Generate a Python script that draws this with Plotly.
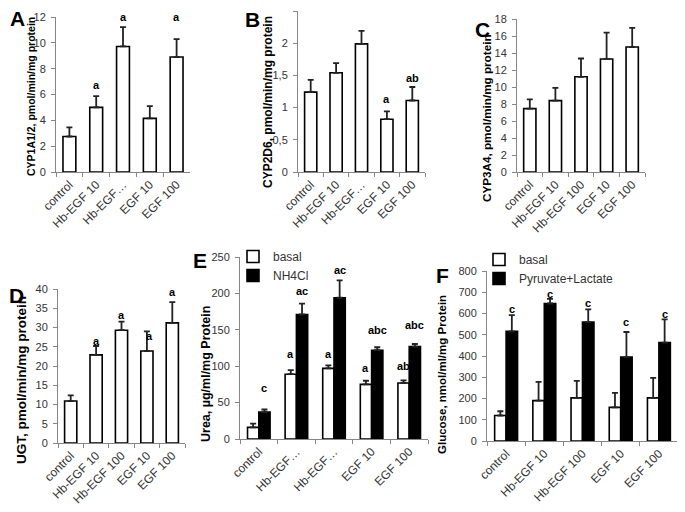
import plotly.graph_objects as go

# ---------------- data ----------------
categories = ["control", "Hb-EGF 10", "Hb-EGF 100", "EGF 10", "EGF 100"]
ticks_short = ["control", "Hb-EGF 10", "Hb-EGF\u2026", "EGF 10", "EGF 100"]
ticks_full = ["control", "Hb-EGF 10", "Hb-EGF 100", "EGF 10", "EGF 100"]
ticks_both_short = ["control", "Hb-EGF\u2026", "Hb-EGF\u2026", "EGF 10", "EGF 100"]

cyp1a_mean = [2.75, 5.0, 9.72, 4.15, 8.9]
cyp1a_err = [0.7, 0.87, 1.5, 0.95, 1.38]
cyp1a_lbl_idx = [1, 2, 4]
cyp1a_lbl_y = [6.7, 12.1, 12.1]

cyp2d6_mean = [1.24, 1.54, 1.99, 0.82, 1.11]
cyp2d6_err = [0.19, 0.15, 0.2, 0.12, 0.21]
cyp2d6_lbl_idx = [3, 4]
cyp2d6_lbl_txt = ["a", "ab"]
cyp2d6_lbl_y = [1.13, 1.46]

cyp3a4_mean = [7.45, 8.4, 11.2, 13.3, 14.7]
cyp3a4_err = [1.1, 1.5, 2.15, 3.1, 2.25]

ugt_mean = [10.9, 22.9, 29.3, 23.9, 31.2]
ugt_err = [1.45, 2.3, 2.2, 5.1, 5.4]
ugt_lbl_idx = [1, 2, 3, 4]
ugt_lbl_y = [26.6, 33.2, 27.8, 39.1]

urea_basal = [16, 89, 97, 75, 77]
urea_basal_err = [5, 5.5, 4, 5, 3.5]
urea_nh4 = [37, 171, 194, 122, 127]
urea_nh4_err = [3.5, 15, 24, 4, 3.5]
urea_lbl_idx = [0, 1, 1, 2, 2, 3, 3, 4, 4]
urea_lbl_series = [1, 0, 1, 0, 1, 0, 1, 0, 1]
urea_lbl_txt = ["c", "a", "ac", "a", "ac", "a", "abc", "ab", "abc"]
urea_lbl_y = [70, 117, 203, 117, 232, 98, 150, 100, 156]

glc_basal = [120, 190, 203, 158, 203]
glc_basal_err = [20, 88, 80, 68, 94]
glc_pl = [516, 647, 560, 395, 463]
glc_pl_err = [76, 22, 59, 118, 109]
glc_lbl_idx = [0, 1, 2, 3, 4]
glc_lbl_y = [623, 692, 650, 561, 600]

# ---------------- style ----------------
FONT = "Liberation Sans, Arial, sans-serif"
AXIS_COL = "#868686"
TICK_COL = "#333333"
PAGE_W, PAGE_H = 685, 512
OFF = 8                      # default page body margin
W, H = PAGE_W - OFF, PAGE_H - OFF


def fx(p):
    return (p - OFF) / W


def fy(p):
    return 1 - (p - OFF) / H


fig = go.Figure()

panels = [
    # suffix, xdom px, ydom px, range, dtick, ticktext
    ("", (56, 190), (17, 172), [0, 12], 2, ticks_short),
    ("2", (298, 425), (11, 172), [0, 2.5], 0.5, ticks_short),
    ("3", (517, 645), (19, 172), [0, 18], 2, ticks_full),
    ("4", (58, 185), (289, 443), [0, 40], 5, ticks_full),
    ("5", (240, 428), (257, 439), [0, 250], 50, ticks_both_short),
    ("6", (487, 678), (271, 441), [0, 800], 100, ticks_full),
]

# y-axis titles: text, centre x, centre y (page px), font size
ytitles = [
    ("CYP1A1/2, pmol/min/mg protein", 31, 97, 10.5),
    ("CYP2D6, pmol/min/mg protein", 268, 102, 12),
    ("CYP3A4, pmol/min/mg protein", 486, 118, 11.7),
    ("UGT, pmol/min/mg protein", 21, 380, 13.5),
    ("Urea, \u00b5g/ml/mg Protein", 206, 374, 12.5),
    ("Glucose, nmol/ml/mg Protein", 442, 375, 11.5),
]

bar_line = dict(color="black", width=1.6)


def err(arr):
    return dict(type="data", symmetric=False, array=arr, arrayminus=[0] * len(arr),
                color="#222222", thickness=1.8, width=3)


single = [(cyp1a_mean, cyp1a_err), (cyp2d6_mean, cyp2d6_err), (cyp3a4_mean, cyp3a4_err),
          (ugt_mean, ugt_err)]
for k, (m, e) in enumerate(single):
    sfx = panels[k][0]
    fig.add_trace(go.Bar(x=categories, y=m, error_y=err(e), width=0.48,
                         marker=dict(color="white", line=bar_line),
                         xaxis="x" + sfx, yaxis="y" + sfx, showlegend=False))

# E
fig.add_trace(go.Bar(x=categories, y=urea_basal, error_y=err(urea_basal_err), name="basal",
                     marker=dict(color="white", line=bar_line), xaxis="x5", yaxis="y5",
                     offsetgroup="b", legend="legend"))
fig.add_trace(go.Bar(x=categories, y=urea_nh4, error_y=err(urea_nh4_err), name="NH4Cl",
                     marker=dict(color="black", line=bar_line), xaxis="x5", yaxis="y5",
                     offsetgroup="t", legend="legend"))
# F
fig.add_trace(go.Bar(x=categories, y=glc_basal, error_y=err(glc_basal_err), name="basal",
                     marker=dict(color="white", line=bar_line), xaxis="x6", yaxis="y6",
                     offsetgroup="b", legend="legend2"))
fig.add_trace(go.Bar(x=categories, y=glc_pl, error_y=err(glc_pl_err), name="Pyruvate+Lactate",
                     marker=dict(color="black", line=bar_line), xaxis="x6", yaxis="y6",
                     offsetgroup="t", legend="legend2"))

layout = dict(
    width=W, height=H, margin=dict(l=0, r=0, t=0, b=0, autoexpand=False),
    paper_bgcolor="white", plot_bgcolor="white",
    font=dict(family=FONT, size=12, color=TICK_COL),
    barmode="group", bargap=0.4, bargroupgap=0,
)

for sfx, (xa, xb), (yt, yb), rng, dt, tt in panels:
    if rng[1] == 2.5:
        tv = [0, 0.5, 1, 1.5, 2, 2.5]
        tx = ["0", "0,5", "1", "1,5", "2", "2,5"]
        ytick = dict(tickmode="array", tickvals=tv, ticktext=tx)
    else:
        ytick = dict(tickmode="linear", tick0=0, dtick=dt)
    layout["xaxis" + sfx] = dict(
        domain=[fx(xa), fx(xb)], anchor="y" + sfx, type="category", automargin=False,
        tickmode="array", tickvals=categories, ticktext=tt, tickangle=-45,
        showline=True, linecolor=AXIS_COL, linewidth=1, ticks="outside",
        tickson="boundaries", ticklen=4, tickcolor=AXIS_COL, showgrid=False,
        tickfont=dict(size=12, color=TICK_COL), fixedrange=True,
    )
    layout["yaxis" + sfx] = dict(
        domain=[fy(yb), fy(yt)], anchor="x" + sfx, range=rng, **ytick, automargin=False,
        showline=True, linecolor=AXIS_COL, linewidth=1, ticks="outside",
        ticklen=4, tickcolor=AXIS_COL, showgrid=False, zeroline=False,
        tickfont=dict(size=11, color=TICK_COL), ticklabelstandoff=3,
    )

layout["legend"] = dict(x=fx(233), y=fy(242), xanchor="left", yanchor="top",
                        bgcolor="rgba(0,0,0,0)", font=dict(size=12, color=TICK_COL),
                        itemwidth=30, tracegroupgap=0)
layout["legend2"] = dict(x=fx(479), y=fy(245), xanchor="left", yanchor="top",
                         bgcolor="rgba(0,0,0,0)", font=dict(size=12, color=TICK_COL),
                         itemwidth=30, tracegroupgap=0)

fig.update_layout(**layout)

ann = []
lbl_font = dict(size=11, color="black", family=FONT, weight="bold")


def add_lbls(sfx, idxs, ys, texts, ymax, offs=None):
    for j, (i, y, t) in enumerate(zip(idxs, ys, texts)):
        x = i + (offs[j] if offs else 0)
        ann.append(dict(x=x, y=min(y, ymax), xref="x" + sfx, yref="y" + sfx, text=t,
                        showarrow=False, font=lbl_font))


add_lbls("", cyp1a_lbl_idx, cyp1a_lbl_y, ["a"] * 3, 12)
add_lbls("2", cyp2d6_lbl_idx, cyp2d6_lbl_y, cyp2d6_lbl_txt, 2.5)
add_lbls("4", ugt_lbl_idx, ugt_lbl_y, ["a"] * 4, 40, [0, 0, 0.12, 0])
add_lbls("5", urea_lbl_idx, urea_lbl_y, urea_lbl_txt, 250,
         [(-0.15 if s == 0 else 0.15) for s in urea_lbl_series])
add_lbls("6", glc_lbl_idx, glc_lbl_y, ["c"] * 5, 800, [0.15] * 5)

for t, cx, cy, fs in ytitles:
    ann.append(dict(x=fx(cx), y=fy(cy), xref="paper", yref="paper", text=t, textangle=-90,
                    showarrow=False, xanchor="center", yanchor="middle",
                    font=dict(size=fs, color="black", family=FONT, weight="bold")))

letters = [("A", 17, 18), ("B", 252, 19), ("C", 482, 30), ("D", 16, 295), ("E", 200, 260), ("F", 442, 275)]
for t, lx, ly in letters:
    ann.append(dict(x=fx(lx), y=fy(ly), xref="paper", yref="paper", text=t,
                    showarrow=False, font=dict(size=21, color="black", family=FONT, weight="bold"),
                    xanchor="center", yanchor="middle"))

fig.update_layout(annotations=ann)
fig.write_html("out.html")
